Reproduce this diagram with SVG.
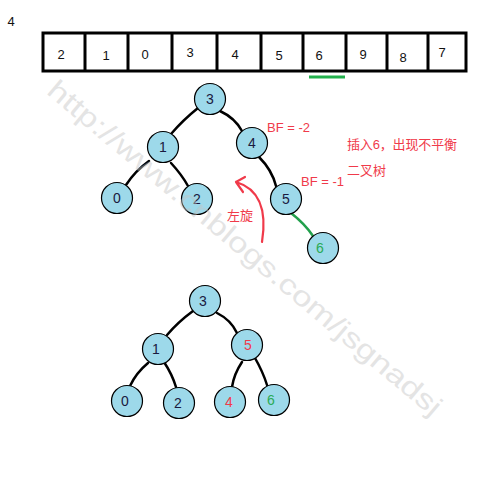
<svg xmlns="http://www.w3.org/2000/svg" width="487" height="494" viewBox="0 0 487 494">
<style>
.cell{fill:none;stroke:#000;stroke-width:3}
.t{font-family:"Liberation Sans","Noto Sans CJK SC",sans-serif;font-size:13px;fill:#111;text-anchor:middle}
.n circle{fill:#9dd9ea;stroke:#000;stroke-width:1.2}
.n text{font-family:"Liberation Sans",sans-serif;font-size:14px;fill:#1a1a40;text-anchor:middle}
.e{fill:none;stroke:#000;stroke-width:2.5;stroke-linecap:round}
.red{font-family:"Liberation Sans","Noto Sans CJK SC",sans-serif;font-size:13px;fill:#f03a4a}
.wm{font-family:"Liberation Sans",sans-serif;font-size:28px;fill:#c4c4c4;opacity:0.45}
</style>
<rect width="487" height="494" fill="#fff"/>
<text class="t" x="11" y="26">4</text>
<g id="array">
<rect class="cell" x="43" y="33" width="423" height="38"/>
<path class="cell" d="M85 33V71M128 33V71M172 33V71M217 33V71M261 33V71M303 33V71M346 33V71M387 33V71M428 33V71"/>
<text class="t" x="61" y="59">2</text>
<text class="t" x="106" y="60">1</text>
<text class="t" x="145" y="59">0</text>
<text class="t" x="190" y="57">3</text>
<text class="t" x="235" y="59">4</text>
<text class="t" x="279" y="60">5</text>
<text class="t" x="319" y="60">6</text>
<text class="t" x="363" y="59">9</text>
<text class="t" x="403" y="62">8</text>
<text class="t" x="442" y="57">7</text>
<line x1="309" y1="77" x2="345" y2="77" stroke="#22b04c" stroke-width="3"/>
</g>
<g id="connectors">
<path class="e" d="M198 108Q183 120 171 134"/>
<path class="e" d="M220 111Q235 118 242 131"/>
<path class="e" d="M149 161Q135 171 126 185"/>
<path class="e" d="M171 163Q182 175 188 186"/>
<path class="e" d="M259 157Q272 170 276 186"/>
<path d="M291 213Q305 224 313 236" fill="none" stroke="#22a04c" stroke-width="2.5" stroke-linecap="round"/>
<path class="e" d="M193 311Q178 322 167 335"/>
<path class="e" d="M217 313Q231 320 237 333"/>
<path class="e" d="M148 363Q136 373 130 386"/>
<path class="e" d="M164 362Q172 374 176 387"/>
<path class="e" d="M242 362Q234 374 232 387"/>
<path class="e" d="M255 358Q263 372 267 385"/>
<path d="M262 242Q270 192 236 182M236 182L245 177M236 182L243 192" fill="none" stroke="#f03a4a" stroke-width="2.2" stroke-linecap="round" stroke-linejoin="round"/>
</g>
<g id="t1n3" class="n"><circle cx="210" cy="99" r="15.5"/><text x="210" y="104">3</text></g>
<g id="t1n1" class="n"><circle cx="163" cy="147" r="15.5"/><text x="163" y="152">1</text></g>
<g id="t1n4" class="n"><circle cx="252" cy="143" r="15.5"/><text x="252" y="148">4</text></g>
<g id="t1n0" class="n"><circle cx="117" cy="198" r="15.5"/><text x="117" y="203">0</text></g>
<g id="t1n2" class="n"><circle cx="197" cy="199" r="15.5"/><text x="197" y="204">2</text></g>
<g id="t1n5" class="n"><circle cx="286" cy="199" r="15.5"/><text x="286" y="204">5</text></g>
<g id="t1n6" class="n"><circle cx="323" cy="248" r="15.5"/><text x="320" y="253" style="fill:#2aaa55">6</text></g>
<g id="t2n3" class="n"><circle cx="205" cy="301" r="15.5"/><text x="203" y="306">3</text></g>
<g id="t2n1" class="n"><circle cx="158" cy="349" r="15.5"/><text x="156" y="354">1</text></g>
<g id="t2n5" class="n"><circle cx="247" cy="345" r="15.5"/><text x="248" y="350" style="fill:#f03a4a">5</text></g>
<g id="t2n0" class="n"><circle cx="127" cy="401" r="15.5"/><text x="125" y="406">0</text></g>
<g id="t2n2" class="n"><circle cx="179" cy="403" r="15.5"/><text x="178" y="408">2</text></g>
<g id="t2n4" class="n"><circle cx="230" cy="402" r="15.5"/><text x="229" y="407" style="fill:#f03a4a">4</text></g>
<g id="t2n6" class="n"><circle cx="274" cy="400" r="15.5"/><text x="271" y="405" style="fill:#2aaa55">6</text></g>
<text class="red" x="267" y="132">BF = -2</text>
<text class="red" x="301" y="186">BF = -1</text>
<text class="red" x="347" y="149" textLength="110">插入6，出现不平衡</text>
<text class="red" x="347" y="175">二叉树</text>
<text class="red" x="227" y="220">左旋</text>
<text class="wm" x="245" y="248" text-anchor="middle" dominant-baseline="central" transform="rotate(40 245 248)" textLength="505" lengthAdjust="spacingAndGlyphs">http://www.cnblogs.com/jsgnadsj</text>
</svg>
